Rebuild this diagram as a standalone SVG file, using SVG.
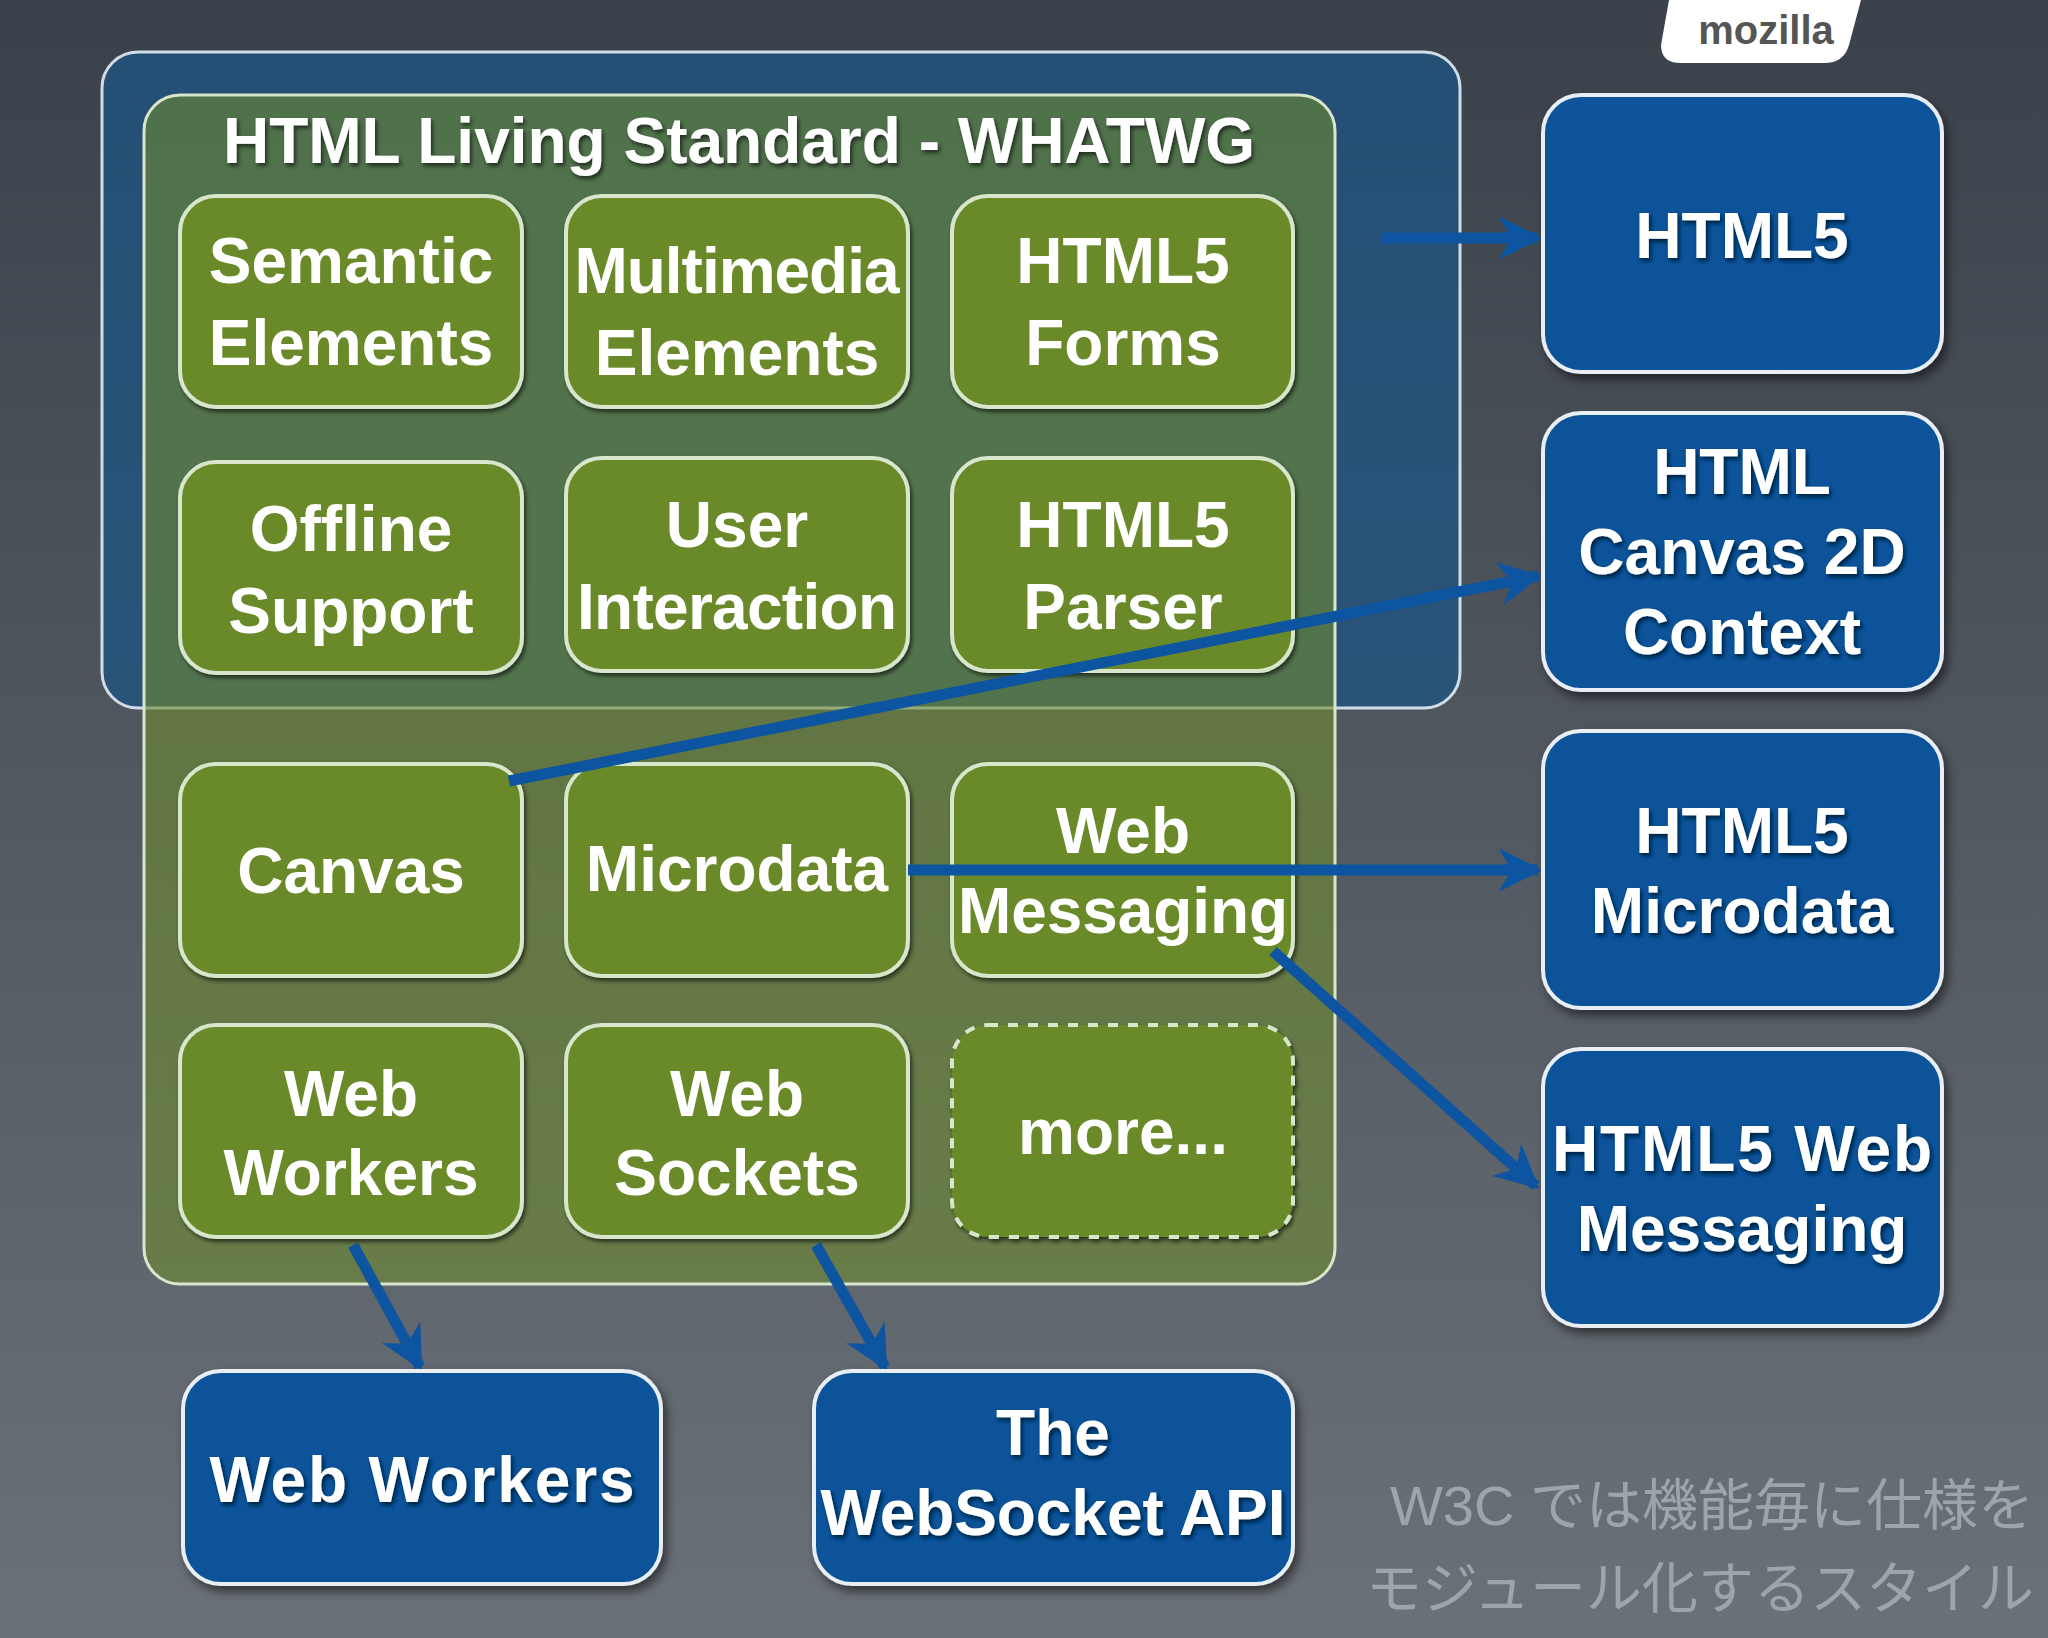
<svg xmlns="http://www.w3.org/2000/svg" width="2048" height="1638" viewBox="0 0 2048 1638">
<defs>
<linearGradient id="bg" x1="0" y1="0" x2="0" y2="1"><stop offset="0" stop-color="#3b414a"/><stop offset="1" stop-color="#6b7178"/></linearGradient>
<filter id="sh" x="-10%" y="-10%" width="130%" height="130%"><feDropShadow dx="4" dy="6" stdDeviation="5" flood-color="#000" flood-opacity="0.5"/></filter>
<filter id="ts"><feDropShadow dx="2" dy="3" stdDeviation="2" flood-color="#000" flood-opacity="0.6"/></filter>
<marker id="ah" viewBox="0 0 10 10" refX="9" refY="5" markerWidth="4" markerHeight="4" orient="auto" markerUnits="strokeWidth"><path d="M0,0 L10,5 L0,10 L3,5 z" fill="#0d55a0"/></marker>
</defs>
<style>
.g{fill:#6a8a2c;stroke:#d8e6cc;stroke-width:4}
.b{fill:#07529a;stroke:#e8eef4;stroke-width:4}
.t{font-family:"Liberation Sans",Arial,sans-serif;font-weight:bold;font-size:64px;fill:#fff;text-anchor:middle}
.c{stroke:#0d55a0;stroke-width:11;fill:none;marker-end:url(#ah)}
</style>
<rect width="2048" height="1638" fill="url(#bg)"/>
<path d="M1669,0 h192 l-12,45 q-5,18 -25,18 h-143 q-20,0 -20,-18 z" fill="#fff"/>
<text x="1766" y="44" font-family="Liberation Sans,Arial,sans-serif" font-weight="bold" font-size="40" fill="#555" text-anchor="middle">mozilla</text>
<g id="w3c"><rect x="102" y="52" width="1358" height="656" rx="36" fill="#1d5382" fill-opacity="0.75" stroke="#d0dde8" stroke-width="3"/></g>
<g id="whatwg"><rect x="144" y="95" width="1191" height="1189" rx="36" fill="#6e8a30" fill-opacity="0.6" stroke="#d8e6cc" stroke-width="3"/>
<text class="t" x="739" y="163" font-size="70" filter="url(#ts)">HTML Living Standard - WHATWG</text></g>
<g filter="url(#ts)">
<g id="n1"><rect class="g" x="180" y="196" width="342" height="211" rx="36"/><text class="t" x="351" y="283">Semantic</text><text class="t" x="351" y="365">Elements</text></g>
<g id="n2"><rect class="g" x="566" y="196" width="342" height="211" rx="36"/><text class="t" x="737" y="293" textLength="325">Multimedia</text><text class="t" x="737" y="375">Elements</text></g>
<g id="n3"><rect class="g" x="952" y="196" width="341" height="211" rx="36"/><text class="t" x="1123" y="283">HTML5</text><text class="t" x="1123" y="365">Forms</text></g>
<g id="n4"><rect class="g" x="180" y="462" width="342" height="211" rx="36"/><text class="t" x="351" y="551">Offline</text><text class="t" x="351" y="633">Support</text></g>
<g id="n5"><rect class="g" x="566" y="458" width="342" height="213" rx="36"/><text class="t" x="737" y="547">User</text><text class="t" x="737" y="629" textLength="320">Interaction</text></g>
<g id="n6"><rect class="g" x="952" y="458" width="341" height="213" rx="36"/><text class="t" x="1123" y="547">HTML5</text><text class="t" x="1123" y="629">Parser</text></g>
<g id="n7"><rect class="g" x="180" y="764" width="342" height="212" rx="36"/><text class="t" x="351" y="893">Canvas</text></g>
<g id="n8"><rect class="g" x="566" y="764" width="342" height="212" rx="36"/><text class="t" x="737" y="891">Microdata</text></g>
<g id="n9"><rect class="g" x="952" y="764" width="341" height="212" rx="36"/><text class="t" x="1123" y="853">Web</text><text class="t" x="1123" y="933" textLength="330">Messaging</text></g>
<g id="n10"><rect class="g" x="180" y="1025" width="342" height="212" rx="36"/><text class="t" x="351" y="1116">Web</text><text class="t" x="351" y="1195">Workers</text></g>
<g id="n11"><rect class="g" x="566" y="1025" width="342" height="212" rx="36"/><text class="t" x="737" y="1116">Web</text><text class="t" x="737" y="1195">Sockets</text></g>
<g id="n12"><rect class="g" x="952" y="1025" width="341" height="212" rx="36" stroke-dasharray="10,10"/><text class="t" x="1123" y="1154">more...</text></g>
</g>
<g id="connectors">
<line class="c" x1="1382" y1="238" x2="1538" y2="238"/>
<line class="c" x1="509" y1="781" x2="1538" y2="576"/>
<line class="c" x1="908" y1="870" x2="1538" y2="870"/>
<line class="c" x1="1273" y1="951" x2="1536" y2="1186"/>
<line class="c" x1="353" y1="1245" x2="420" y2="1367"/>
<line class="c" x1="816" y1="1245" x2="885" y2="1367"/>
</g>
<g filter="url(#sh)">
<g id="b1"><rect class="b" x="1543" y="95" width="399" height="277" rx="38"/><text class="t" x="1742" y="258" filter="url(#ts)">HTML5</text></g>
<g id="b2"><rect class="b" x="1543" y="413" width="399" height="277" rx="38"/><g filter="url(#ts)"><text class="t" x="1742" y="494">HTML</text><text class="t" x="1742" y="574">Canvas 2D</text><text class="t" x="1742" y="654">Context</text></g></g>
<g id="b3"><rect class="b" x="1543" y="731" width="399" height="277" rx="38"/><g filter="url(#ts)"><text class="t" x="1742" y="853">HTML5</text><text class="t" x="1742" y="933">Microdata</text></g></g>
<g id="b4"><rect class="b" x="1543" y="1049" width="399" height="277" rx="38"/><g filter="url(#ts)"><text class="t" x="1742" y="1171" textLength="380">HTML5 Web</text><text class="t" x="1742" y="1251">Messaging</text></g></g>
<g id="b5"><rect class="b" x="183" y="1371" width="478" height="213" rx="38"/><text class="t" x="422" y="1502" filter="url(#ts)" textLength="425">Web Workers</text></g>
<g id="b6"><rect class="b" x="814" y="1371" width="479" height="213" rx="38"/><g filter="url(#ts)"><text class="t" x="1053" y="1455">The</text><text class="t" x="1053" y="1535" textLength="465">WebSocket API</text></g></g>
</g>
<g font-family="Liberation Sans,'Noto Sans CJK JP',sans-serif" font-size="56" fill="#9ea4ab" text-anchor="end">
<text x="2034" y="1525">W3C では機能毎に仕様を</text>
<text x="2034" y="1608">モジュール化するスタイル</text>
</g>
</svg>
